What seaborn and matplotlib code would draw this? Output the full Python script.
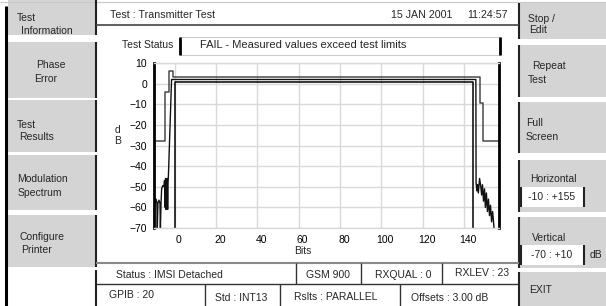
import numpy as np
import pandas as pd
import matplotlib
matplotlib.use('Agg')
import matplotlib.pyplot as plt
import matplotlib.transforms as mtrans
from matplotlib.patches import Rectangle
import seaborn as sns

# ── Data ──────────────────────────────────────────────────────
x_ticks = [0, 20, 40, 60, 80, 100, 120, 140]
y_ticks = [-70, -60, -50, -40, -30, -20, -10, 0, 10]

# measured burst power (bits, dB)
trace_bits = [-10, -9.6, -9.0, -8.6, -8.4, -8.1, -7.6, -7.1, -6.9, -6.6, -6.3, -5.8,
              -5.2, -4.9, -4.6, -4.4, -4.2, -4.0, -3.8, -3.6, -3.4, -3.2, -3.0, -1.5,
              145.8, 145.9, 146.3, 146.6, 147.0, 147.6, 148.2, 148.6, 149.0, 149.5,
              150.0, 150.4, 150.9, 151.4, 151.9, 152.4, 152.9, 153.4, 153.9, 154.6]
trace_db = [-70, -58, -56, -58, -70, -58, -56.5, -58, -70, -58, -51, -49.5,
            -50, -47, -60, -46, -61, -47, -60, -46, -61, -48, -44, 2,
            2, -48, -52, -49, -53, -46, -50, -54, -49, -57,
            -51, -60, -53, -62, -56, -64, -59, -67, -62, -70]

# upper limit mask (step breakpoints)
upper_bits = [-10, -4.8, -2.9, -1.0, 147.8, 149.4, 157]
upper_db = [-28, -4, 6, 3, -9.5, -28, -28]

# lower limit mask
lower_bits = [0, 0, 144.5, 144.5]
lower_db = [-70, 1, 1, -70]

# soft keys: (top, bottom, label lines, label x, label y)
left_buttons = [(0, 35, ['Test', 'Information'], [17, 21], [18, 31]),
                (42, 98, ['Phase', 'Error'], [36, 34], [65, 79]),
                (100, 152, ['Test', 'Results'], [17, 19], [125, 137]),
                (155, 210, ['Modulation', 'Spectrum'], [17, 18], [179, 193]),
                (215, 267, ['Configure', 'Printer'], [20, 21], [237, 250])]
right_buttons = [(3, 39, ['Stop /', 'Edit'], [528, 529], [19, 30]),
                 (45, 97, ['Repeat', 'Test'], [532, 528], [66, 80]),
                 (102, 153, ['Full', 'Screen'], [526, 526], [123, 137]),
                 (160, 212, ['Horizontal'], [530], [179]),
                 (217, 268, ['Vertical'], [532], [238]),
                 (272, 306, ['EXIT'], [529], [290])]

sns.set_style('whitegrid')
plt.rcParams['font.family'] = ['Liberation Sans', 'DejaVu Sans']
FS = 7.5
GREY = '#d4d4d4'

fig = plt.figure(figsize=(6.06, 3.06), dpi=100)

# ── screen furniture in pixel coords ──────────────────────────
ui = fig.add_axes([0, 0, 1, 1])
ui.set_xlim(0, 606)
ui.set_ylim(306, 0)
ui.axis('off')


def hline(y, x0, x1, c='#333333', lw=1.0):
    ui.plot([x0, x1], [y, y], color=c, lw=lw, solid_capstyle='butt')


def vline(x, y0, y1, c='#222222', lw=1.5):
    ui.plot([x, x], [y0, y1], color=c, lw=lw, solid_capstyle='butt')


def txt(x, y, s, ha='left', size=FS):
    ui.text(x, y, s, ha=ha, va='center', fontsize=size)


hline(2, 0, 606, c='#c8c8c8', lw=0.8)
vline(6, 6, 306, c='black', lw=2.2)

for y0, y1, lines, xs, ys in left_buttons:
    ui.add_patch(Rectangle((8, y0), 88, y1 - y0, fc=GREY, ec='none'))
    vline(95.5, y0, y1)
    for s, x, y in zip(lines, xs, ys):
        txt(x, y, s)
vline(95.5, 270, 306)

for y0, y1, lines, xs, ys in right_buttons:
    ui.add_patch(Rectangle((519, y0), 87, y1 - y0, fc=GREY, ec='none'))
    vline(519, y0, y1)
    for s, x, y in zip(lines, xs, ys):
        txt(x, y, s)

# value boxes on Horizontal / Vertical keys
for y0, y1, s in [(187, 207, '-10 : +155'), (245, 265, '-70 : +10')]:
    ui.add_patch(Rectangle((520, y0), 64, y1 - y0, fc='white', ec='none'))
    vline(520.5, y0, y1)
    vline(584, y0, y1)
    txt(552, (y0 + y1) / 2, s, ha='center')
txt(596, 255, 'dB', ha='center')

# header
txt(110, 15, 'Test : Transmitter Test', size=7.7)
txt(452, 15, '15 JAN 2001', ha='right', size=7.7)
txt(508, 15, '11:24:57', ha='right', size=7.7)
hline(25, 96, 519, c='#444444', lw=1.2)

# test status box
txt(122, 45, 'Test Status')
ui.add_patch(Rectangle((180, 37), 320, 18, fc='white', ec='#cccccc', lw=0.8))
vline(180, 37, 55, c='black', lw=2)
vline(500, 37, 55, c='black', lw=2)
txt(200, 45, 'FAIL - Measured values exceed test limits', size=8)

# status rows
hline(263, 96, 519, c='#888888', lw=1.5)
hline(284, 96, 519, c='#333333', lw=1.0)
for x in [296, 361, 442]:
    vline(x, 263, 284, c='#333333', lw=1.0)
for x in [205, 280, 400]:
    vline(x, 284, 306, c='#333333', lw=1.0)
txt(116, 275, 'Status : IMSI Detached')
txt(328, 275, 'GSM 900', ha='center')
txt(403, 275, 'RXQUAL : 0', ha='center')
txt(482, 273, 'RXLEV : 23', ha='center')
txt(109, 295, 'GPIB : 20')
txt(241, 298, 'Std : INT13', ha='center')
txt(336, 297, 'Rslts : PARALLEL', ha='center')
txt(450, 298, 'Offsets : 3.00 dB', ha='center')

# ── power vs time plot ────────────────────────────────────────
ax = fig.add_axes([154 / 606, 1 - 228 / 306, 345 / 606, 165 / 306])
ax.set_facecolor('white')

trace = pd.DataFrame({'bits': trace_bits, 'db': trace_db})
upper = pd.DataFrame({'bits': upper_bits, 'db': upper_db})
lower = pd.DataFrame({'bits': lower_bits, 'db': lower_db})

sns.lineplot(data=upper, x='bits', y='db', ax=ax, estimator=None, sort=False,
             color='#4a4a4a', lw=1.1, drawstyle='steps-post')
sns.lineplot(data=lower, x='bits', y='db', ax=ax, estimator=None, sort=False,
             color='black', lw=1.1)
sns.lineplot(data=trace, x='bits', y='db', ax=ax, estimator=None, sort=False,
             color='#111111', lw=1.0)

ax.set_xlim(-10, 157)
ax.set_ylim(-70, 10)
ax.set_xticks(x_ticks)
ax.set_yticks(y_ticks)
ax.grid(True, color='#d9d9d9', lw=1.0)
ax.tick_params(length=0, labelsize=FS, pad=5, colors='black')
shift = mtrans.ScaledTranslation(0.04, 0, fig.dpi_scale_trans)
for lab in ax.get_xticklabels():
    lab.set_transform(lab.get_transform() + shift)

for side in ['left', 'right']:
    ax.spines[side].set_color('black')
    ax.spines[side].set_linewidth(2)
for side in ['top', 'bottom']:
    ax.spines[side].set_color('#d9d9d9')
    ax.spines[side].set_linewidth(1)

ax.set_xlabel('Bits', fontsize=FS)
ax.xaxis.set_label_coords(0.432, -0.11)
ax.set_ylabel('d\nB', fontsize=FS, rotation=0, va='center', linespacing=1.1)
ax.yaxis.set_label_coords(-0.107, 0.56)

fig.savefig('out.png', dpi=100)
